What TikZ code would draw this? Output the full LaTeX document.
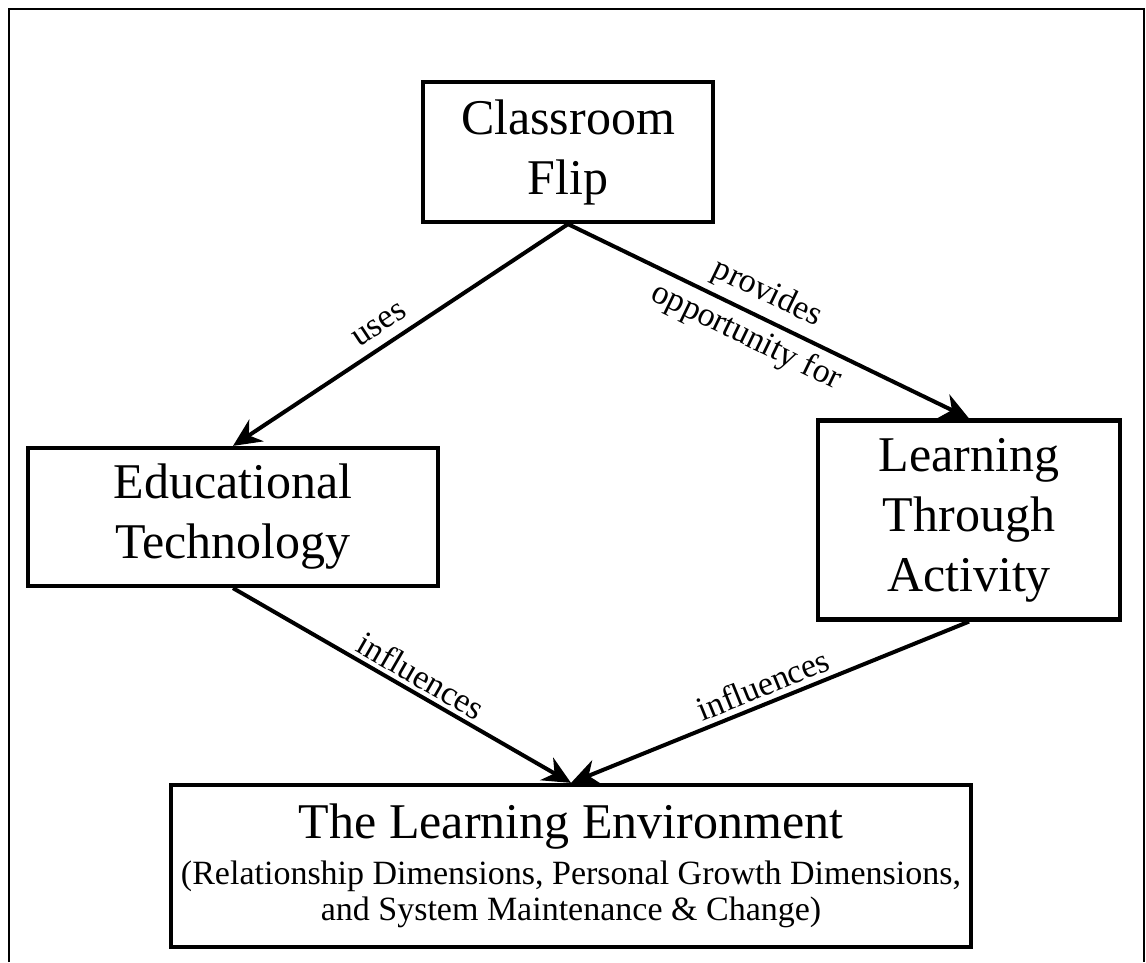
\documentclass[tikz,border=0pt]{standalone}
\usepackage{fontspec}
\setmainfont{Liberation Serif}
\usetikzlibrary{arrows.meta}

\begin{document}
\begin{tikzpicture}[x=1pt,y=-1pt,
		concept/.style={draw,line width=4.2pt,align=center,inner sep=0pt,
			font=\fontsize{50}{60}\selectfont},
		link/.style={line width=4pt,-{Stealth[length=28pt,width=26pt,inset=9pt]}},
		tag/.style={font=\fontsize{34}{38}\selectfont,sloped,align=center,inner sep=4pt}]
	
	\useasboundingbox (0,0) rectangle (1146,962);
	\draw[line width=2.5pt] (9,962) -- (9,9) -- (1144,9) -- (1144,962);
	
	\node[concept,minimum width=290pt,minimum height=140pt] (flip) at (568,152) {Classroom\\Flip};
	\node[concept,minimum width=410pt,minimum height=138pt] (edtech) at (233,517) {Educational\\Technology};
	\node[concept,minimum width=302pt,minimum height=199pt] (activity) at (969,520) {Learning\\Through\\Activity};
	\node[concept,minimum width=800pt,minimum height=162pt,
		font=\fontsize{34}{36}\selectfont] (env) at (571,866)
		{{\fontsize{50}{60}\selectfont The Learning Environment}\\[10pt]
		(Relationship Dimensions, Personal Growth Dimensions,\\
		and System Maintenance \& Change)};
	
	\draw[link] (flip.south) -- node[tag,above=6pt,pos=.53] {uses} (edtech.north);
	\draw[link] (flip.south) -- node[tag,pos=.47] {provides\\[10pt]opportunity for} (activity.north);
	\draw[link] (edtech.south) -- node[tag,above=0pt,pos=.53] {influences} (env.north);
	\draw[link] (activity.south) -- node[tag,above=1pt,pos=.5] {influences} (env.north);
\end{tikzpicture}
\end{document}
